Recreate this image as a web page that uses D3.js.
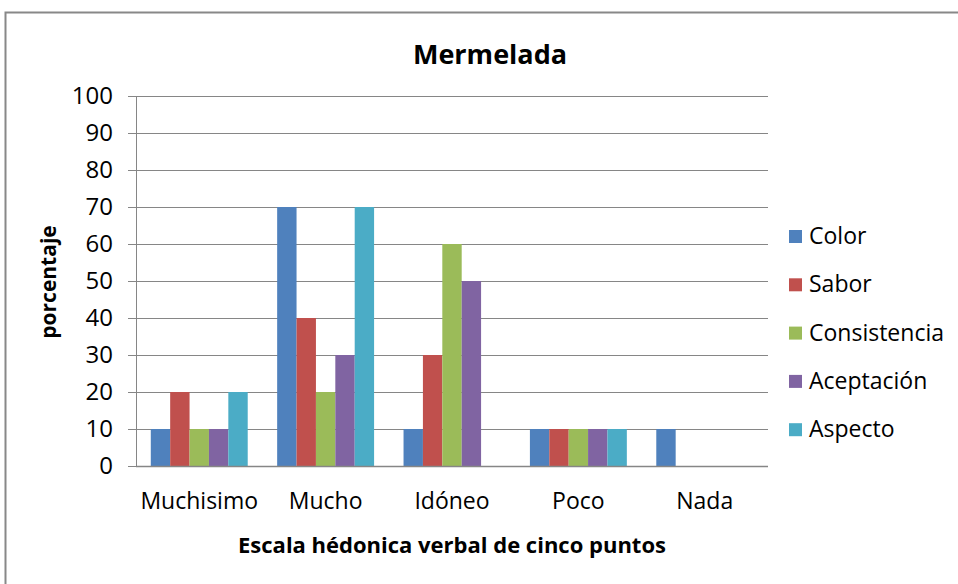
<!DOCTYPE html>
<html>
<head>
<meta charset="utf-8">
<script src="https://cdn.jsdelivr.net/npm/d3@7"></script>
<style>
  body { margin: 0; background: #fff; }
  text { font-family: "Open Sans", "Liberation Sans", sans-serif; fill: #000; }
</style>
</head>
<body>
<div class="chart"></div>
<script>
var categories = ["Muchisimo", "Mucho", "Idóneo", "Poco", "Nada"];
var seriesNames = ["Color", "Sabor", "Consistencia", "Aceptación", "Aspecto"];
var colorVals = [10, 70, 10, 10, 10];
var saborVals = [20, 40, 30, 10, 0];
var consistenciaVals = [10, 20, 60, 10, 0];
var aceptacionVals = [10, 30, 50, 10, 0];
var aspectoVals = [20, 70, 0, 10, 0];
var yTicks = [0, 10, 20, 30, 40, 50, 60, 70, 80, 90, 100];
var colors = ["#4F81BD", "#C0504D", "#9BBB59", "#8064A2", "#4BACC6"];

var seriesVals = [colorVals, saborVals, consistenciaVals, aceptacionVals, aspectoVals];

var svgWidth = 958;
var svgHeight = 584;
var margin = { top: 96, right: 190, bottom: 118, left: 136 };
var width = svgWidth - margin.left - margin.right;
var height = svgHeight - margin.top - margin.bottom;

var svg = d3.select(".chart").append("svg")
  .attr("width", svgWidth)
  .attr("height", svgHeight);

// outer frame
svg.append("rect")
  .attr("x", 5.5).attr("y", 12.5)
  .attr("width", 980).attr("height", 600)
  .attr("fill", "none").attr("stroke", "#888").attr("stroke-width", 2);

var chartGroup = svg.append("g")
  .attr("transform", `translate(${margin.left}, ${margin.top})`);

var x0 = d3.scaleBand().domain(categories).range([0, width]).paddingInner(0.233).paddingOuter(0.117);
var x1 = d3.scaleBand().domain(seriesNames).range([0, x0.bandwidth()]);
var y = d3.scaleLinear().domain([0, 100]).range([height, 0]);

// gridlines
chartGroup.append("g").selectAll("line")
  .data(yTicks.filter(d => d > 0))
  .enter().append("line")
  .attr("x1", 0).attr("x2", width)
  .attr("y1", d => Math.round(y(d)) + 0.5).attr("y2", d => Math.round(y(d)) + 0.5)
  .attr("stroke", "#868686").attr("stroke-width", 1);

// bars
var groups = chartGroup.selectAll(".cat")
  .data(categories)
  .enter().append("g")
  .attr("transform", d => `translate(${x0(d)},0)`);

groups.selectAll("rect")
  .data((c, i) => seriesNames.map((s, j) => ({ s: s, v: seriesVals[j][i], j: j })))
  .enter().append("rect")
  .attr("x", d => x1(d.s))
  .attr("width", x1.bandwidth())
  .attr("y", d => y(d.v))
  .attr("height", d => height - y(d.v))
  .attr("fill", d => colors[d.j]);

// y axis
var leftAxis = d3.axisLeft(y).tickValues(yTicks).tickSize(8).tickPadding(15);
var yAxis = chartGroup.append("g").call(leftAxis);
yAxis.select(".domain").attr("stroke", "#868686");
yAxis.selectAll(".tick line").attr("stroke", "#868686");
yAxis.selectAll("text").style("font-size", "24px");

// x axis
var xAxis = chartGroup.append("g")
  .attr("transform", `translate(0, ${height})`);
xAxis.append("line").attr("x1", 0).attr("x2", width)
  .attr("y1", 0.5).attr("y2", 0.5).attr("stroke", "#868686").attr("stroke-width", 1.5);
xAxis.selectAll("text")
  .data(categories)
  .enter().append("text")
  .attr("x", d => x0(d) + x0.bandwidth() / 2)
  .attr("y", 43)
  .attr("text-anchor", "middle")
  .style("font-size", "23px")
  .text(d => d);

// title
svg.append("text")
  .attr("x", 490).attr("y", 64)
  .attr("text-anchor", "middle")
  .style("font-size", "27px").style("font-weight", "bold")
  .text("Mermelada");

// axis titles
svg.append("text")
  .attr("x", 452).attr("y", 553)
  .attr("text-anchor", "middle")
  .style("font-size", "22px").style("font-weight", "bold")
  .text("Escala hédonica verbal de cinco puntos");

svg.append("text")
  .attr("transform", "translate(56, 282) rotate(-90)")
  .attr("text-anchor", "middle")
  .style("font-size", "21px").style("font-weight", "bold")
  .text("porcentaje");

// legend
var legend = svg.append("g").attr("transform", "translate(789, 236)");
var items = legend.selectAll("g")
  .data(seriesNames)
  .enter().append("g")
  .attr("transform", (d, i) => `translate(0, ${i * 48.3})`);
items.append("rect")
  .attr("y", -6)
  .attr("width", 13).attr("height", 13)
  .attr("fill", (d, i) => colors[i]);
items.append("text")
  .attr("x", 20).attr("y", 0)
  .attr("dy", "0.35em")
  .style("font-size", "23px")
  .text(d => d);
</script>
</body>
</html>
